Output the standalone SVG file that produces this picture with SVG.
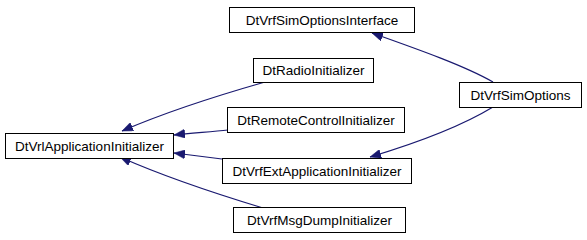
<svg xmlns="http://www.w3.org/2000/svg" width="587" height="240" viewBox="0 0 587 240">
<style>
.box{fill:#fff;stroke:#000;stroke-width:1}
.lbl{font-family:"Liberation Sans",Arial,sans-serif;font-size:13.5px;fill:#000;text-anchor:middle}
.edge{fill:none;stroke:#191970;stroke-width:1.2}
</style>
<defs>
<marker id="arr" markerUnits="userSpaceOnUse" markerWidth="12" markerHeight="9" refX="11" refY="4.5" orient="auto">
<path d="M0,0 L11,4.5 L0,9 z" fill="#191970" stroke="#191970" stroke-width="0.5"/>
</marker>
</defs>
<rect width="587" height="240" fill="#fff"/>
<g id="connectors">
<path class="edge" marker-end="url(#arr)" d="M265,82 C230,92 175,108 122,131"/>
<path class="edge" marker-end="url(#arr)" d="M228,130 C210,132 190,133 174,135"/>
<path class="edge" marker-end="url(#arr)" d="M222,159 C207,157 190,155 174,153"/>
<path class="edge" marker-end="url(#arr)" d="M263,208 C220,195 165,177 120,157"/>
<path class="edge" marker-end="url(#arr)" d="M493,82 C465,66 420,50 372,33"/>
<path class="edge" marker-end="url(#arr)" d="M493,107 C465,124 420,142 370,157"/>
</g>
<g id="DtVrlApplicationInitializer">
<rect class="box" x="5.5" y="133.5" width="168" height="25"/>
<text class="lbl" x="89.5" y="150.5">DtVrlApplicationInitializer</text>
</g>
<g id="DtVrfSimOptionsInterface">
<rect class="box" x="229.5" y="7.5" width="185" height="25"/>
<text class="lbl" x="322" y="24.5">DtVrfSimOptionsInterface</text>
</g>
<g id="DtRadioInitializer">
<rect class="box" x="253.5" y="58.5" width="120" height="24"/>
<text class="lbl" x="313.5" y="75">DtRadioInitializer</text>
</g>
<g id="DtRemoteControlInitializer">
<rect class="box" x="227.5" y="107.5" width="177" height="25"/>
<text class="lbl" x="316" y="124.5">DtRemoteControlInitializer</text>
</g>
<g id="DtVrfExtApplicationInitializer">
<rect class="box" x="222.5" y="158.5" width="189" height="25"/>
<text class="lbl" x="317" y="175.5">DtVrfExtApplicationInitializer</text>
</g>
<g id="DtVrfMsgDumpInitializer">
<rect class="box" x="233.5" y="207.5" width="172" height="25"/>
<text class="lbl" x="319.5" y="224.5">DtVrfMsgDumpInitializer</text>
</g>
<g id="DtVrfSimOptions">
<rect class="box" x="459.5" y="82.5" width="122" height="25"/>
<text class="lbl" x="520.5" y="99.5">DtVrfSimOptions</text>
</g>
</svg>
